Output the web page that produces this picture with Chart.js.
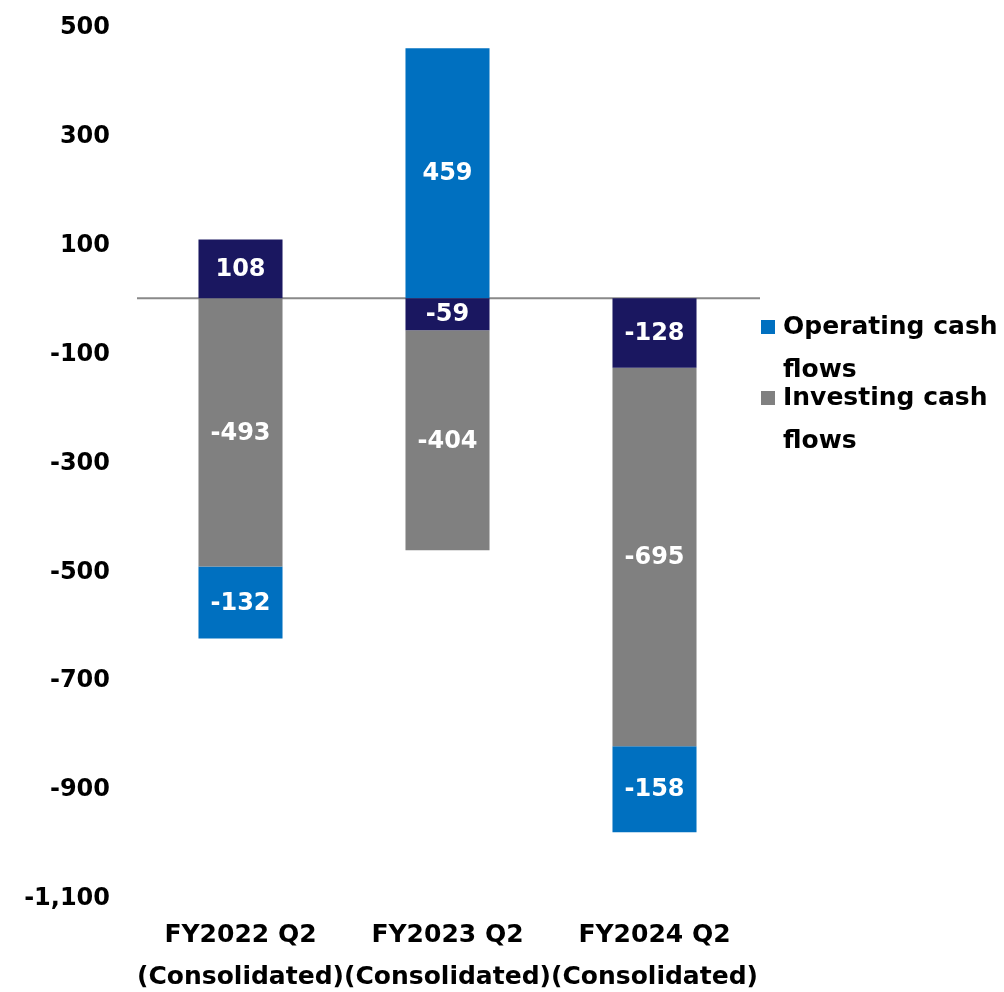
<!DOCTYPE html>
<html>
<head>
<meta charset="utf-8">
<script src="https://cdn.jsdelivr.net/npm/chart.js@4/dist/chart.umd.min.js"></script>
<style>
  html, body { margin: 0; padding: 0; background: #fff; }
  #wrap { width: 1004px; height: 992px; }
</style>
</head>
<body>
<div id="wrap"><canvas id="cf"></canvas></div>
<script>
// categories
const periods = [['FY2022 Q2', '(Consolidated)'], ['FY2023 Q2', '(Consolidated)'], ['FY2024 Q2', '(Consolidated)']];

// series (stack order: free cf, investing, operating)
const freeCF = [108, -59, -128];
const investingCF = [-493, -404, -695];
const operatingCF = [-132, 459, -158];

// legend text, wrapped as in the original
const legendLines = {
  'Operating cash flows': ['Operating cash', 'flows'],
  'Investing cash flows': ['Investing cash', 'flows']
};

const FONT = '"DejaVu Sans", Verdana, sans-serif';

// zero line + labels in segments + legend at right
const extras = {
  id: 'extras',
  beforeDatasetsDraw(chart) {
    const { ctx, chartArea, scales } = chart;
    const y0 = scales.y.getPixelForValue(0);
    ctx.save();
    ctx.strokeStyle = '#898989';
    ctx.lineWidth = 2;
    ctx.beginPath();
    ctx.moveTo(chartArea.left, y0);
    ctx.lineTo(chartArea.right + 2, y0);
    ctx.stroke();
    ctx.restore();
  },
  afterDatasetsDraw(chart) {
    const { ctx } = chart;
    ctx.save();
    ctx.font = 'bold 24px ' + FONT;
    ctx.fillStyle = '#fff';
    ctx.textAlign = 'center';
    ctx.textBaseline = 'middle';
    chart.data.datasets.forEach((ds, i) => {
      chart.getDatasetMeta(i).data.forEach((bar, j) => {
        const p = bar.getProps(['x', 'y', 'base'], true);
        ctx.fillText(String(ds.data[j]), p.x, (p.y + p.base) / 2 + 1);
      });
    });

    // legend
    const items = chart.data.datasets.filter(ds => legendLines[ds.label]);
    items.sort((a, b) => b.legendOrder - a.legendOrder);
    let y = 327;
    ctx.font = 'bold 25px ' + FONT;
    ctx.textAlign = 'left';
    items.forEach(ds => {
      ctx.fillStyle = ds.backgroundColor;
      ctx.fillRect(761, y - 7, 14, 14);
      ctx.fillStyle = '#000';
      legendLines[ds.label].forEach((line, k) => {
        ctx.fillText(line, 783, y + k * 43);
      });
      y += 71;
    });
    ctx.restore();
  }
};

new Chart(document.getElementById('cf'), {
  type: 'bar',
  data: {
    labels: periods,
    datasets: [
      { label: 'Free cash flows', data: freeCF, backgroundColor: '#1a1760', legendOrder: 0 },
      { label: 'Investing cash flows', data: investingCF, backgroundColor: '#808080', legendOrder: 1 },
      { label: 'Operating cash flows', data: operatingCF, backgroundColor: '#0070c0', legendOrder: 2 }
    ]
  },
  options: {
    responsive: true,
    maintainAspectRatio: false,
    animation: false,
    categoryPercentage: 1,
    barPercentage: 0.406,
    layout: { padding: { top: 26, right: 246, bottom: 0, left: 0 } },
    plugins: { legend: { display: false }, tooltip: { enabled: false } },
    scales: {
      x: {
        stacked: true,
        grid: { display: false, drawTicks: false },
        border: { display: false },
        ticks: {
          color: '#000',
          font: { family: FONT, size: 25, weight: 'bold', lineHeight: 1.7 },
          padding: 17,
          maxRotation: 0,
          autoSkip: false
        },
        afterFit(s) { s.height = 95; }
      },
      y: {
        stacked: true,
        min: -1100,
        max: 500,
        // invisible tick marks give the gap between labels and bars
        grid: { display: true, drawOnChartArea: false, drawTicks: true, tickLength: 27, color: 'rgba(0,0,0,0)' },
        border: { display: false },
        ticks: {
          stepSize: 200,
          color: '#000',
          padding: 0,
          labelOffset: 2,
          font: { family: FONT, size: 24, weight: 'bold' },
          callback: v => v.toLocaleString('en-US')
        },
        afterFit(s) { s.width = 137; }
      }
    }
  },
  plugins: [extras]
});
</script>
</body>
</html>
